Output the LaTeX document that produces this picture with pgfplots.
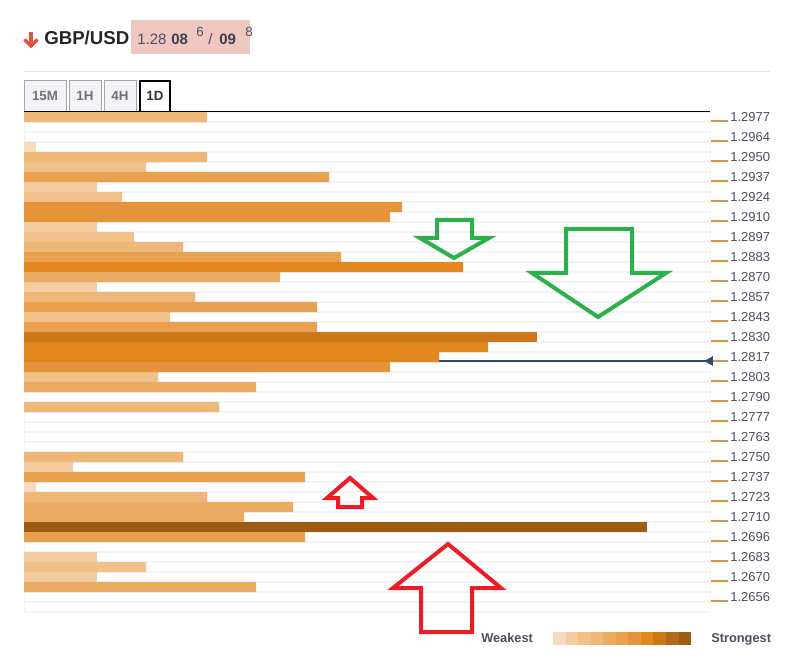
\documentclass[border=0pt]{standalone}
\usepackage{fontspec}
\setmainfont{Liberation Sans}
\usepackage{pgfplots}
\pgfplotsset{compat=1.18}

% strength scale, weakest -> strongest
\definecolor{c1}{HTML}{F6DCBD}
\definecolor{c2}{HTML}{F3CC9F}
\definecolor{c3}{HTML}{F1C18A}
\definecolor{c4}{HTML}{EEB677}
\definecolor{c5}{HTML}{ECAB63}
\definecolor{c6}{HTML}{E9A04F}
\definecolor{c7}{HTML}{E6943A}
\definecolor{c8}{HTML}{E2871E}
\definecolor{c9}{HTML}{CD7718}
\definecolor{c10}{HTML}{B36918}
\definecolor{c11}{HTML}{9E5B13}
\definecolor{gridc}{HTML}{F2F2F7}
\definecolor{tickor}{HTML}{DE9440}
\definecolor{labc}{HTML}{4A5060}
\definecolor{pricec}{HTML}{2E4A70}
\definecolor{upred}{HTML}{EC1C24}
\definecolor{dnred}{HTML}{DD5540}
\definecolor{dngreen}{HTML}{2BB04A}
\definecolor{pinkbox}{HTML}{F0C6C0}
\definecolor{tabfill}{HTML}{F2F2F7}
\definecolor{tabdraw}{HTML}{A6A6AE}

\begin{document}
\begin{tikzpicture}
\path[use as bounding box] (0,0) rectangle (590.25pt,492.75pt);
\begin{axis}[
  at={(18pt,33.75pt)}, anchor=south west,
  width=514.5pt, height=375pt, scale only axis,
  xmin=0, xmax=686, ymin=-0.5, ymax=49.5, y dir=reverse,
  xtick=\empty,
  ytick={0.4,2.4,4.4,6.4,8.4,10.4,12.4,14.4,16.4,18.4,20.4,22.4,24.4,26.4,28.4,30.4,32.4,34.4,36.4,38.4,40.4,42.4,44.4,46.4,48.4},
  yticklabels={1.2977,1.2964,1.2950,1.2937,1.2924,1.2910,1.2897,1.2883,1.2870,1.2857,1.2843,1.2830,1.2817,1.2803,1.2790,1.2777,1.2763,1.2750,1.2737,1.2723,1.2710,1.2696,1.2683,1.2670,1.2656},
  ytick pos=right, yticklabel pos=right,
  tick align=outside, major tick length=13.5pt,
  tick style={draw=tickor, line width=1pt},
  minor ytick={-0.5,0.5,...,49.5}, yminorgrids, minor tick length=0pt,
  minor grid style={draw=gridc, line width=1pt},
  axis line style={draw=gridc},
  yticklabel style={font=\fontsize{9.75}{11}\selectfont, text=labc, anchor=west, inner sep=0pt, xshift=1.5pt, yshift=3pt},
  clip=false,
  bars/.style={xbar, bar width=1, bar shift=0pt, draw=none},
]
% current price
\addplot[pricec, line width=1pt, mark=triangle*, mark indices={2}, mark size=3.2pt, mark options={rotate=90, fill=pricec}] coordinates {(0,24.4) (686,24.4)};
% bars by strength
\addplot[bars, fill=c1] coordinates {(12,3) (12,37)};
\addplot[bars, fill=c2] coordinates {(73,7) (73,11) (73,17) (49,35) (73,44) (73,46)};
\addplot[bars, fill=c3] coordinates {(122,5) (98,8) (110,12) (146,20) (134,26) (122,45)};
\addplot[bars, fill=c4] coordinates {(183,0) (183,4) (159,13) (171,18) (195,29) (159,34) (183,38)};
\addplot[bars, fill=c5] coordinates {(256,16) (232,27) (269,39) (220,40) (232,47)};
\addplot[bars, fill=c6] coordinates {(305,6) (317,14) (293,19) (293,21) (281,36) (281,42)};
\addplot[bars, fill=c7] coordinates {(378,9) (366,10) (366,25)};
\addplot[bars, fill=c8] coordinates {(439,15) (464,23) (415,24)};
\addplot[bars, fill=c9] coordinates {(513,22)};
\addplot[bars, fill=c11] coordinates {(623,41)};
\end{axis}

\begin{scope}[x=0.75pt, y=-0.75pt, shift={(0pt,492.75pt)}]
% header
\draw[dnred, line width=2.4pt] (31,32) -- (31,46);
\draw[dnred, line width=2.4pt, line join=miter] (24.5,39.5) -- (31,46) -- (37.5,39.5);
\node[anchor=base west, inner sep=0pt, text=black!85] at (44,45) {\fontsize{14}{16}\selectfont\bfseries GBP/USD};
\fill[pinkbox] (131,20) rectangle (250,54);
\node[anchor=base west, inner sep=0pt, text=labc] at (137,44.5) {\fontsize{11.25}{13}\selectfont 1.28};
\node[anchor=base west, inner sep=0pt, text=labc!80!black] at (171,44.5) {\fontsize{11.25}{13}\selectfont\bfseries 08};
\node[anchor=base west, inner sep=0pt, text=labc] at (196,37) {\fontsize{10}{11}\selectfont 6};
\node[anchor=base west, inner sep=0pt, text=labc] at (208,44.5) {\fontsize{11.25}{13}\selectfont /};
\node[anchor=base west, inner sep=0pt, text=labc!80!black] at (219,44.5) {\fontsize{11.25}{13}\selectfont\bfseries 09};
\node[anchor=base west, inner sep=0pt, text=labc] at (245,37) {\fontsize{10}{11}\selectfont 8};
\draw[black!10, line width=0.75pt] (24,71.5) -- (770,71.5);
% tabs
\foreach \a/\b/\t in {24/66/15M, 69/101/1H, 104/136/4H} {
  \filldraw[fill=tabfill, draw=tabdraw, line width=0.75pt] (\a,111) -- (\a,81) -- (\b,81) -- (\b,111);
  \node[text=black!55, inner sep=0pt] at ({(\a+\b)/2},96) {\fontsize{10}{12}\selectfont\bfseries \t};
}
\draw[black, line width=0.9pt] (140,111) -- (140,81) -- (170,81) -- (170,111);
\node[text=black!80, inner sep=0pt] at (155,96) {\fontsize{10}{12}\selectfont\bfseries 1D};
\draw[black, line width=0.9pt] (24,111.5) -- (710,111.5);
% arrows
\draw[dngreen, line width=3pt, line join=miter] (437,220) -- (472,220) -- (472,238) -- (489,238) -- (454,258) -- (420,238) -- (437,238) -- cycle;
\draw[dngreen, line width=3pt, line join=miter] (566,229) -- (632,229) -- (632,273) -- (666,273) -- (598,317) -- (532,273) -- (566,273) -- cycle;
\draw[upred, line width=3pt, line join=miter] (350,478) -- (373,498) -- (362,498) -- (362,507) -- (338,507) -- (338,498) -- (327,498) -- cycle;
\draw[upred, line width=3pt, line join=miter] (448,544) -- (501,588) -- (472,588) -- (472,632) -- (421,632) -- (421,588) -- (393,588) -- cycle;
% legend
\node[anchor=base west, inner sep=0pt, text=labc] at (481,642) {\fontsize{9.6}{11}\selectfont\bfseries Weakest};
\foreach \i in {1,...,11} {
  \fill[c\i] ({553+(\i-1)*12.55},632) rectangle ({553+\i*12.55+0.2},645);
}
\node[anchor=base west, inner sep=0pt, text=labc] at (711,642) {\fontsize{9.6}{11}\selectfont\bfseries Strongest};
\end{scope}
\end{tikzpicture}
\end{document}
